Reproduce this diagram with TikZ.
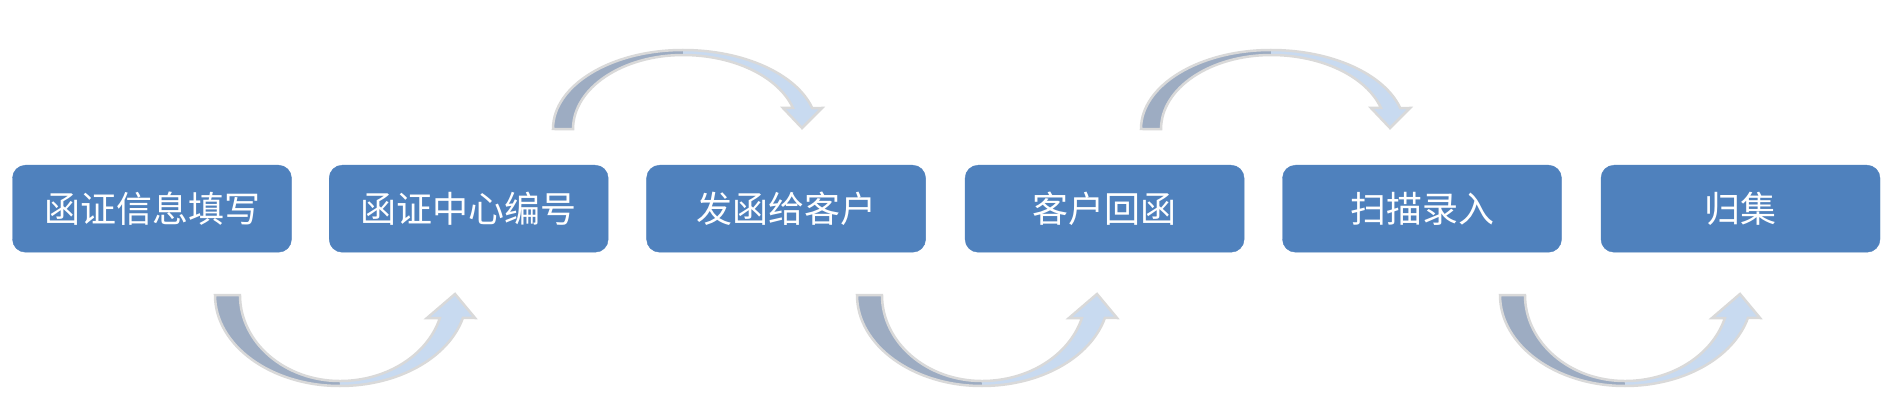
\documentclass[tikz,border=0pt]{standalone}
\usepackage{fontspec}
\newfontfamily\cjk{Noto Sans CJK SC}
\definecolor{boxblue}{HTML}{4F81BD}
\definecolor{arrdark}{RGB}{157,172,194}
\definecolor{arrlight}{RGB}{200,218,240}
\definecolor{arredge}{RGB}{217,217,217}
\tikzset{
  stepbox/.style={fill=boxblue, draw=boxblue, rounded corners=13pt,
    minimum width=279pt, minimum height=87pt, inner sep=0pt,
    text=white, font=\cjk\fontsize{36}{42}\selectfont},
  arrowedge/.style={draw=arredge, line width=2.5pt},
  lowarrow/.pic={
    \fill[arrdark] (0,0) arc[start angle=180,end angle=90,x radius=125,y radius=91]
      -- (125,86) arc[start angle=90,end angle=180,x radius=100,y radius=86] -- cycle;
    \fill[arrlight] (125,91) arc[start angle=90,end angle=14.6,x radius=127,y radius=91]
      -- (260,23) -- (240,-1) -- (212,23) -- (224.9,23)
      arc[start angle=15.5,end angle=90,x radius=103.7,y radius=86] -- cycle;
    \draw[arrowedge] (0,0) arc[start angle=180,end angle=90,x radius=125,y radius=91]
      arc[start angle=90,end angle=14.6,x radius=127,y radius=91]
      -- (260,23) -- (240,-1) -- (212,23) -- (224.9,23)
      arc[start angle=15.5,end angle=90,x radius=103.7,y radius=86]
      arc[start angle=90,end angle=180,x radius=100,y radius=86] -- cycle;
  },
  uparrow/.pic={
    \fill[arrdark] (0,0) arc[start angle=180,end angle=270,x radius=130,y radius=79]
      -- (130,-74) arc[start angle=270,end angle=180,x radius=110,y radius=74] -- cycle;
    \fill[arrlight] (130,-79) arc[start angle=270,end angle=344.6,x radius=134,y radius=79]
      -- (269,-21) -- (249,-1) -- (230,-21) -- (240,-21)
      arc[start angle=343.5,end angle=270,x radius=114.7,y radius=74] -- cycle;
    \draw[arrowedge] (0,0) arc[start angle=180,end angle=270,x radius=130,y radius=79]
      arc[start angle=270,end angle=344.6,x radius=134,y radius=79]
      -- (269,-21) -- (249,-1) -- (230,-21) -- (240,-21)
      arc[start angle=343.5,end angle=270,x radius=114.7,y radius=74]
      arc[start angle=270,end angle=180,x radius=110,y radius=74] -- cycle;
  }
}
\begin{document}
\begin{tikzpicture}[x=1pt,y=-1pt]
\fill[white] (0,0) rectangle (1892,414);
\useasboundingbox (0,0) rectangle (1892,414);
\node[stepbox] (b1) at (152,208.7) {函证信息填写};
\node[stepbox] (b2) at (468.7,208.7) {函证中心编号};
\node[stepbox] (b3) at (786.1,208.7) {发函给客户};
\node[stepbox] (b4) at (1104.6,208.7) {客户回函};
\node[stepbox] (b5) at (1422,208.7) {扫描录入};
\node[stepbox] (b6) at (1740.5,208.7) {归集};
\pic (a1) at (215,295) {lowarrow};
\pic (a2) at (857,295) {lowarrow};
\pic (a3) at (1500,295) {lowarrow};
\pic (u1) at (553,129) {uparrow};
\pic (u2) at (1141,129) {uparrow};
\end{tikzpicture}
\end{document}
